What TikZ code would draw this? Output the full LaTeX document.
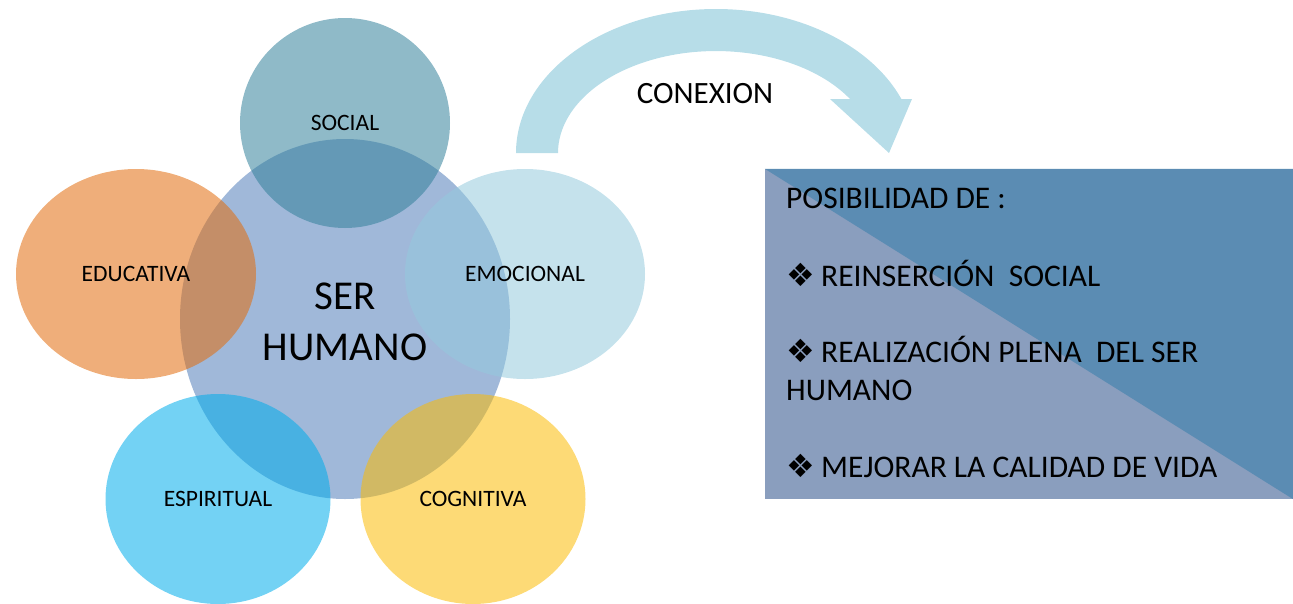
\documentclass[tikz,border=0pt]{standalone}
\usepackage{fontspec}
\setmainfont{Carlito}
\newfontfamily\symfont{DejaVu Sans}
\usetikzlibrary{shapes.geometric}
\definecolor{colser}{RGB}{160,184,217}
\definecolor{colsocial}{RGB}{51,129,155}
\definecolor{coledu}{RGB}{226,108,12}
\definecolor{colemo}{RGB}{149,202,221}
\definecolor{colesp}{RGB}{0,173,235}
\definecolor{colcog}{RGB}{251,187,5}
\definecolor{colarrow}{RGB}{183,221,232}
\definecolor{colboxlow}{RGB}{138,158,190}
\definecolor{colboxhigh}{RGB}{91,140,179}
\tikzset{
  petal/.style={ellipse,fill opacity=0.55,text opacity=1,inner sep=0pt,
    font=\fontsize{23.5}{28}\selectfont},
  boxtext/.style={anchor=base west,inner sep=0pt,font=\fontsize{31.5}{36}\selectfont}
}
\newcommand{\bul}{\makebox[35pt][l]{\symfont\fontsize{32}{32}\selectfont ❖}}
\begin{document}
\begin{tikzpicture}[x=1pt,y=-1pt]
  \useasboundingbox (0,0) rectangle (1293,603);
  % centro
  \node (ser) [ellipse,fill=colser,minimum width=330pt,minimum height=360pt] at (345,319) {};
  % dimensiones
  \node (social) [petal,fill=colsocial,minimum width=210pt,minimum height=210pt] at (345,123) {SOCIAL};
  \node (edu) [petal,fill=coledu,minimum width=240pt,minimum height=210pt] at (136,274) {EDUCATIVA};
  \node (emo) [petal,fill=colemo,minimum width=240pt,minimum height=210pt] at (525,274) {EMOCIONAL};
  \node (esp) [petal,fill=colesp,minimum width=225pt,minimum height=210pt] at (218,499) {ESPIRITUAL};
  \node (cog) [petal,fill=colcog,minimum width=225pt,minimum height=210pt] at (473,499) {COGNITIVA};
  \node (serlab) [align=center,inner sep=0pt,font=\fontsize{41}{51}\selectfont] at (345,322) {SER\\HUMANO};
  % flecha curva
  \fill[colarrow] (516,153) arc[start angle=180,end angle=338,x radius=200,y radius=144]
    -- (912,99) -- (889,153) -- (830,99) -- (850,99)
    arc[start angle=328,end angle=180,x radius=158,y radius=102] -- cycle;
  \node (conexion) [font=\fontsize{31}{36}\selectfont] at (705,94) {CONEXION};
  % recuadro
  \node (box) [rectangle,fill=colboxlow,minimum width=528pt,minimum height=330pt,inner sep=0pt] at (1029,334) {};
  \fill[colboxhigh] (box.north west) -- (box.north east) -- (box.south east) -- cycle;
  \node (posib) [boxtext] at (786,208) {POSIBILIDAD DE :};
  \node (item1) [boxtext] at (786,286) {\bul REINSERCIÓN\ \ SOCIAL};
  \node (item2) [boxtext] at (786,362) {\bul REALIZACIÓN PLENA\ \ DEL SER};
  \node (item2b) [boxtext] at (786,400) {HUMANO};
  \node (item3) [boxtext] at (786,477) {\bul MEJORAR LA CALIDAD DE VIDA};
\end{tikzpicture}
\end{document}
